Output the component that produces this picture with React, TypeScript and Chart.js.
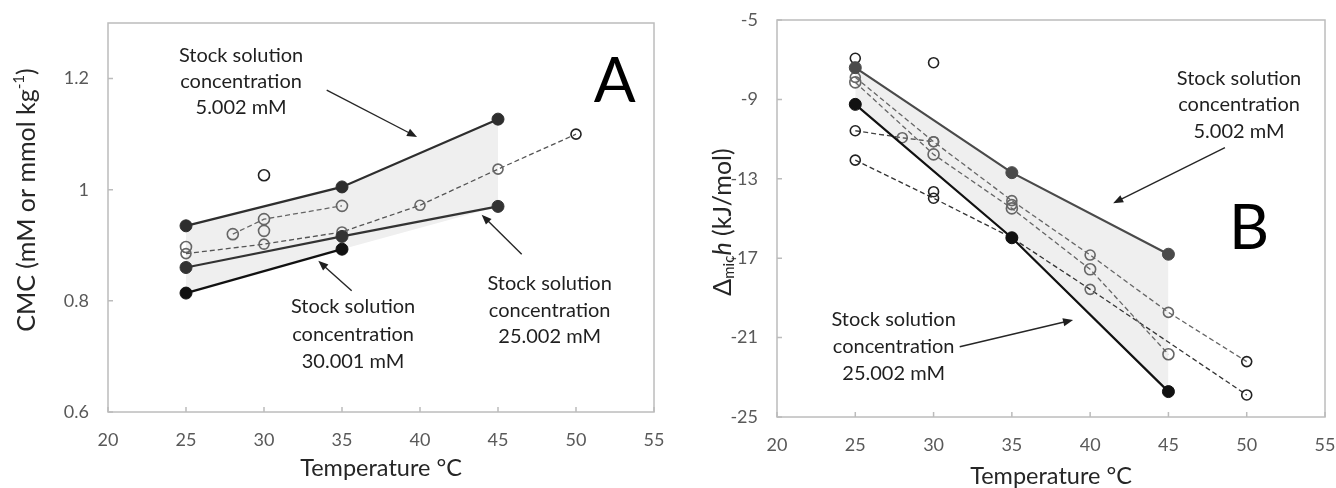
import React, { useEffect, useRef } from "react";
import { Chart, registerables } from "chart.js";
Chart.register(...registerables);

const FONT = "Lato, 'Open Sans', sans-serif";

// ---------- Panel A data (CMC vs temperature) ----------
const tempA5 = [25, 35, 45];
const cmcA5 = [0.935, 1.005, 1.127];
const tempA25 = [25, 35, 45];
const cmcA25 = [0.86, 0.916, 0.97];
const tempA30 = [25, 35];
const cmcA30 = [0.814, 0.893];
const tempAd1 = [28, 30, 35];
const cmcAd1 = [0.92, 0.947, 0.971];
const tempAd2 = [25, 30, 35, 40, 45, 50];
const cmcAd2 = [0.885, 0.902, 0.924, 0.972, 1.037, 1.1];
const tempAs = [25, 30, 30];
const cmcAs = [0.897, 0.926, 1.026];
const xTicksA = [20, 25, 30, 35, 40, 45, 50, 55];
const yTicksA = [0.6, 0.8, 1, 1.2];

// ---------- Panel B data (enthalpy of micellization) ----------
const tempB5 = [25, 35, 45];
const dhB5 = [-7.4, -12.69, -16.8];
const tempB25 = [25, 35, 45];
const dhB25 = [-9.25, -15.97, -23.72];
const tempBg1 = [25, 30, 35, 40, 45, 50];
const dhBg1 = [-7.89, -11.13, -14.1, -16.84, -19.73, -22.21];
const tempBg2 = [25, 30, 35, 40, 45];
const dhBg2 = [-8.14, -11.77, -14.49, -17.56, -21.84];
const tempBk1 = [25, 28, 30];
const dhBk1 = [-10.58, -10.93, -11.13];
const tempBk2 = [25, 30, 35, 40, 50];
const dhBk2 = [-12.06, -13.98, -15.97, -18.57, -23.89];
const tempBs = [25, 30, 30, 35];
const dhBs = [-6.93, -7.15, -13.65, -14.3];
const xTicksB = [20, 25, 30, 35, 40, 45, 50, 55];
const yTicksB = [-25, -21, -17, -13, -9, -5];

const NOTE = ["Stock solution", "concentration"];

const pts = (xs: number[], ys: number[]) => xs.map((x, i) => ({ x, y: ys[i] }));

function arrow(ctx: CanvasRenderingContext2D, x1: number, y1: number, x2: number, y2: number) {
  const ang = Math.atan2(y2 - y1, x2 - x1);
  const L = 10, W = 4;
  ctx.beginPath();
  ctx.moveTo(x1, y1);
  ctx.lineTo(x2 - Math.cos(ang) * L * 0.8, y2 - Math.sin(ang) * L * 0.8);
  ctx.stroke();
  ctx.beginPath();
  ctx.moveTo(x2, y2);
  ctx.lineTo(x2 - Math.cos(ang) * L - Math.sin(ang) * W, y2 - Math.sin(ang) * L + Math.cos(ang) * W);
  ctx.lineTo(x2 - Math.cos(ang) * L + Math.sin(ang) * W, y2 - Math.sin(ang) * L - Math.cos(ang) * W);
  ctx.closePath();
  ctx.fill();
}

type Note = { lines: string[]; tx: number; ty: number[]; ax: number[]; ay: number[] };

function decor(cfg: any) {
  return {
    id: "decor",
    afterDraw(chart: any) {
      const { ctx, chartArea: a } = chart;
      const x = chart.scales.x, y = chart.scales.y;
      ctx.save();
      ctx.strokeStyle = "#bcbcbc";
      ctx.lineWidth = 1.5;
      ctx.strokeRect(a.left, a.top, a.right - a.left, a.bottom - a.top);
      ctx.beginPath();
      cfg.xTicks.forEach((v: number) => {
        const px = x.getPixelForValue(v);
        ctx.moveTo(px, a.bottom);
        ctx.lineTo(px, a.bottom - 5);
      });
      cfg.yTicks.forEach((v: number) => {
        const py = y.getPixelForValue(v);
        ctx.moveTo(a.left, py);
        ctx.lineTo(a.left + 5, py);
      });
      ctx.stroke();

      ctx.fillStyle = "#1f1f1f";
      ctx.strokeStyle = "#262626";
      ctx.lineWidth = 1.4;
      ctx.font = `20px ${FONT}`;
      ctx.textAlign = "center";
      ctx.textBaseline = "middle";
      cfg.notes.forEach((n: Note) => {
        n.lines.forEach((t, i) => ctx.fillText(t, x.getPixelForValue(n.tx), y.getPixelForValue(n.ty[i])));
        arrow(ctx, x.getPixelForValue(n.ax[0]), y.getPixelForValue(n.ay[0]), x.getPixelForValue(n.ax[1]), y.getPixelForValue(n.ay[1]));
      });

      ctx.fillStyle = "#000";
      ctx.font = `62px ${FONT}`;
      ctx.textAlign = "center";
      ctx.textBaseline = "alphabetic";
      ctx.fillText(cfg.letter, x.getPixelForValue(cfg.letterX), y.getPixelForValue(cfg.letterY));

      ctx.fillStyle = "#262626";
      ctx.font = `23.5px ${FONT}`;
      ctx.textBaseline = "middle";
      ctx.fillText("Temperature °C", (a.left + a.right) / 2, cfg.xTitleY);

      cfg.drawYTitle(ctx, a);
      ctx.restore();
    },
  };
}

function drawRuns(ctx: CanvasRenderingContext2D, cx: number, cy: number, runs: { t: string; f: string; dy: number }[]) {
  ctx.save();
  ctx.translate(cx, cy);
  ctx.rotate(-Math.PI / 2);
  ctx.textAlign = "left";
  ctx.textBaseline = "middle";
  ctx.fillStyle = "#262626";
  let w = 0;
  runs.forEach((r) => { ctx.font = r.f; w += ctx.measureText(r.t).width; });
  let px = -w / 2;
  runs.forEach((r) => {
    ctx.font = r.f;
    ctx.fillText(r.t, px, r.dy);
    px += ctx.measureText(r.t).width;
  });
  ctx.restore();
}

function baseScales(xMin: number, xMax: number, yMin: number, yMax: number, xT: number[], yT: number[], yW: number, xH: number, yFmt: (v: number) => string) {
  return {
    x: {
      type: "linear",
      min: xMin,
      max: xMax,
      afterBuildTicks: (s: any) => { s.ticks = xT.map((v) => ({ value: v })); },
      afterFit: (s: any) => { s.height = xH; s.paddingLeft = 0; s.paddingRight = 0; },
      ticks: { font: { family: FONT, size: 18 }, color: "#595959", padding: 17, maxRotation: 0, autoSkip: false },
      grid: { display: false, drawTicks: false },
      border: { display: false },
    },
    y: {
      type: "linear",
      min: yMin,
      max: yMax,
      afterBuildTicks: (s: any) => { s.ticks = yT.map((v) => ({ value: v })); },
      afterFit: (s: any) => { s.width = yW; s.paddingTop = 0; s.paddingBottom = 0; },
      ticks: { font: { family: FONT, size: 18 }, color: "#595959", padding: 19, autoSkip: false, callback: (v: any) => yFmt(Number(v)) },
      grid: { display: false, drawTicks: false },
      border: { display: false },
    },
  };
}

const solid = (data: any[], color: string, extra: any = {}) => ({
  data, showLine: true, borderColor: color, borderWidth: 2.2, pointRadius: 6, pointBackgroundColor: color,
  pointBorderColor: color, pointBorderWidth: 1, fill: false, ...extra,
});
const dashed = (data: any[], lineColor: string, ptColor: any, r = 5.5) => ({
  data, showLine: true, borderColor: lineColor, borderWidth: 1.3, borderDash: [5, 3], pointRadius: r,
  pointBackgroundColor: "rgba(0,0,0,0)", pointBorderColor: ptColor, pointBorderWidth: 1.6, fill: false,
});
const opens = (data: any[], ptColor: any, r = 5.5) => ({
  data, showLine: false, pointRadius: r, pointBackgroundColor: "rgba(0,0,0,0)", pointBorderColor: ptColor, pointBorderWidth: 1.6,
});
const boundary = (data: any[]) => ({
  data, showLine: true, borderWidth: 0, borderColor: "rgba(0,0,0,0)", pointRadius: 0, fill: false,
});

function configA() {
  const lowA = pts([tempA30[0], tempA30[1], tempA25[2]], [cmcA30[0], cmcA30[1], cmcA25[2]]);
  const notes: Note[] = [
    { lines: [...NOTE, "5.002 mM"], tx: 28.53, ty: [1.242, 1.194, 1.147], ax: [34.02, 39.81], ay: [1.179, 1.095] },
    { lines: [...NOTE, "30.001 mM"], tx: 35.71, ty: [0.789, 0.74, 0.691], ax: [35.62, 33.48], ay: [0.818, 0.872] },
    { lines: [...NOTE, "25.002 mM"], tx: 48.31, ty: [0.832, 0.782, 0.736], ax: [46.52, 43.95], ay: [0.884, 0.955] },
  ];
  return {
    type: "scatter",
    data: {
      datasets: [
        solid(pts(tempA5, cmcA5), "#2e2e2e", { fill: 6, backgroundColor: "#efefef" }),
        solid(pts(tempA25, cmcA25), "#333333"),
        solid(pts(tempA30, cmcA30), "#111111"),
        dashed(pts(tempAd1, cmcAd1), "#666", "#666"),
        dashed(pts(tempAd2, cmcAd2), "#555", ["#666", "#666", "#666", "#666", "#666", "#222"], 5),
        opens(pts(tempAs, cmcAs), ["#666", "#666", "#222"]),
        boundary(lowA),
      ],
    },
    options: {
      responsive: false,
      animation: false,
      layout: { padding: { top: 23, right: 14, left: 0, bottom: 0 } },
      plugins: { legend: { display: false }, tooltip: { enabled: false }, filler: { propagate: false, drawTime: "beforeDatasetsDraw" } },
      scales: baseScales(20, 55, 0.6, 1.3, xTicksA, yTicksA, 108, 76, (v) => String(Number(v.toFixed(2)))),
    },
    plugins: [
      decor({
        xTicks: xTicksA, yTicks: yTicksA, notes, letter: "A", letterX: 52.48, letterY: 1.158, xTitleY: 468,
        drawYTitle: (ctx: CanvasRenderingContext2D, a: any) =>
          drawRuns(ctx, 27, 200, [
            { t: "CMC (mM or mmol kg", f: `25px ${FONT}`, dy: 0 },
            { t: "-1", f: `15px ${FONT}`, dy: -8 },
            { t: ")", f: `25px ${FONT}`, dy: 0 },
          ]),
      }),
    ],
  };
}

function configB() {
  const notes: Note[] = [
    { lines: [...NOTE, "5.002 mM"], tx: 49.51, ty: [-7.94, -9.28, -10.63], ax: [48.61, 41.47], ay: [-11.43, -14.23] },
    { lines: [...NOTE, "25.002 mM"], tx: 27.45, ty: [-20.11, -21.46, -22.8], ax: [31.67, 38.91], ay: [-21.46, -20.11] },
  ];
  return {
    type: "scatter",
    data: {
      datasets: [
        solid(pts(tempB5, dhB5), "#4a4a4a", { fill: 1, backgroundColor: "#efefef" }),
        solid(pts(tempB25, dhB25), "#111111"),
        dashed(pts(tempBg1, dhBg1), "#666", ["#666", "#666", "#666", "#666", "#666", "#222"], 5),
        dashed(pts(tempBg2, dhBg2), "#666", "#666", 5.5),
        dashed(pts(tempBk1, dhBk1), "#444", ["#222", "#666", "#666"], 5),
        dashed(pts(tempBk2, dhBk2), "#333", ["#222", "#222", "#222", "#666", "#222"], 5),
        opens(pts(tempBs, dhBs), ["#222", "#222", "#222", "#666"], 5),
      ],
    },
    options: {
      responsive: false,
      animation: false,
      layout: { padding: { top: 20, right: 11, left: 0, bottom: 0 } },
      plugins: { legend: { display: false }, tooltip: { enabled: false }, filler: { propagate: false, drawTime: "beforeDatasetsDraw" } },
      scales: baseScales(20, 55, -25, -5, xTicksB, yTicksB, 109, 71, (v) => String(v)),
    },
    plugins: [
      decor({
        xTicks: xTicksB, yTicks: yTicksB, notes, letter: "B", letterX: 50.15, letterY: -16.54, xTitleY: 476,
        drawYTitle: (ctx: CanvasRenderingContext2D, a: any) =>
          drawRuns(ctx, 55, 222, [
            { t: "Δ", f: `25px ${FONT}`, dy: 0 },
            { t: "mic", f: `15px ${FONT}`, dy: 6 },
            { t: "h", f: `italic 25px ${FONT}`, dy: 0 },
            { t: " (kJ/mol)", f: `25px ${FONT}`, dy: 0 },
          ]),
      }),
    ],
  };
}

function Panel({ make, left }: { make: () => any; left: number }) {
  const ref = useRef<HTMLCanvasElement>(null);
  useEffect(() => {
    const chart = new Chart(ref.current as HTMLCanvasElement, make());
    return () => chart.destroy();
  }, []);
  return (
    <div style={{ position: "absolute", left, top: 0, width: 668, height: 488 }}>
      <canvas ref={ref} width={668} height={488} style={{ display: "block" }} />
    </div>
  );
}

export default function App() {
  return (
    <div style={{ position: "absolute", left: 0, top: 0, width: 1336, height: 488, background: "#fff", overflow: "hidden" }}>
      <Panel make={configA} left={0} />
      <Panel make={configB} left={668} />
    </div>
  );
}
